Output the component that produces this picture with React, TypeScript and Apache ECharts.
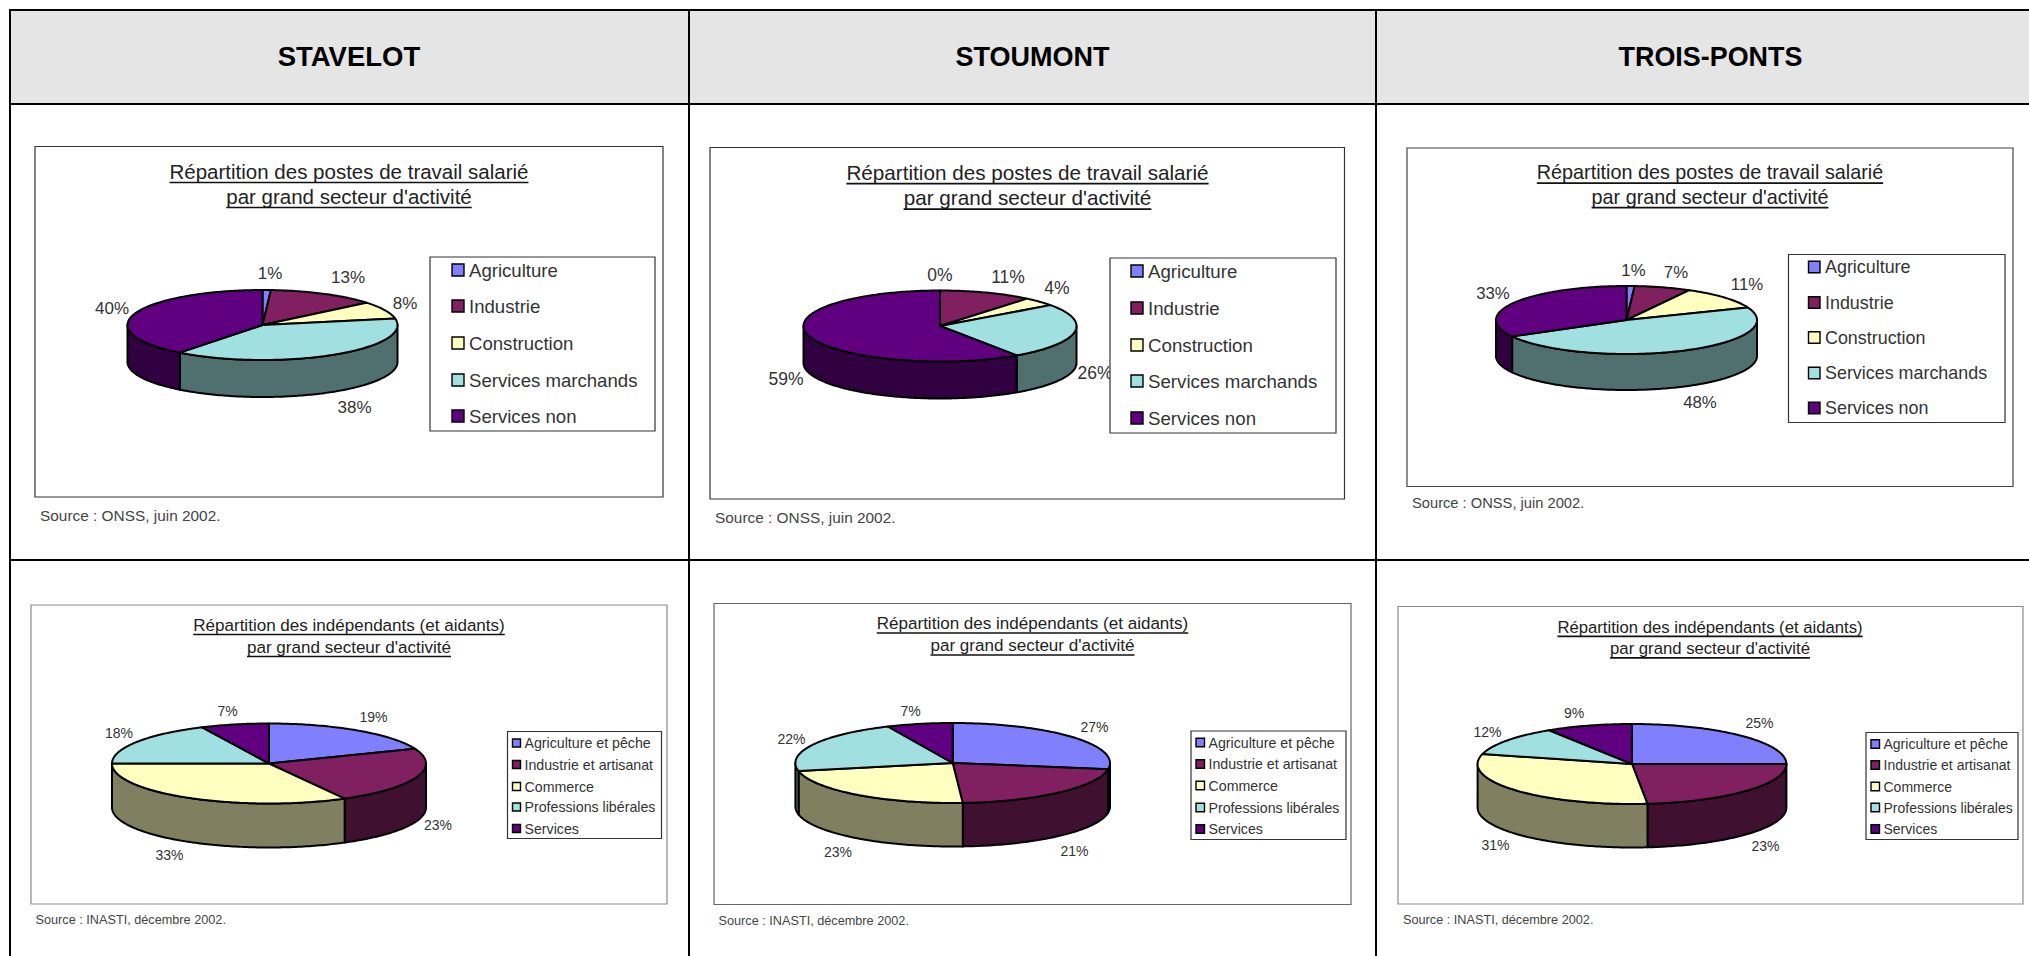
import React, { useEffect, useRef } from "react";
import * as echarts from "echarts";

const communes = ["STAVELOT", "STOUMONT", "TROIS-PONTS"];
const salariedSectors = ["Agriculture", "Industrie", "Construction", "Services marchands", "Services non"];
const selfEmployedSectors = ["Agriculture et pêche", "Industrie et artisanat", "Commerce", "Professions libérales", "Services"];
const salariedTitle = ["Répartition des postes de travail salarié", "par grand secteur d'activité"];
const selfEmployedTitle = ["Répartition des indépendants (et aidants)", "par grand secteur d'activité"];
const salariedSource = "Source : ONSS, juin 2002.";
const selfEmployedSource = "Source : INASTI, décembre 2002.";

// Shares read from the slice boundaries; the printed labels are these values rounded.
const stavelotSalaried = [1, 13, 8, 38.49, 39.51];
const stoumontSalaried = [0, 11, 4, 25.5, 59.49];
const troisPontsSalaried = [1, 7, 11, 48, 33];
const stavelotSelfEmployed = [19, 23, 33, 18, 7];
const stoumontSelfEmployed = [27.49, 21.49, 22.8, 21.5, 6.72];
const troisPontsSelfEmployed = [25, 23.4, 30.6, 12, 9];

const topColors = ["#8080FF", "#802060", "#FFFFC0", "#A0E0E0", "#600080"];
const sideColors = ["#404080", "#401030", "#808060", "#507070", "#300040"];

const FONT = '"Liberation Sans", Arial, sans-serif';

const panels = [
  {
    values: stavelotSalaried, names: salariedSectors, title: salariedTitle, source: salariedSource,
    box: [35, 146.5, 663, 497], border: "#333333",
    titleX: 349, titleY: [171, 196], titleSize: 20.5,
    legendBox: [430, 257, 655, 431], swatch: [452, 464], textX: 469, legendY: [270, 306, 343, 380, 416], legendSize: 18.6,
    pie: { cx: 262.5, cy: 325, rx: 135, ry: 35, depth: 37 },
    labels: [[270, 273.5], [348, 277], [405, 303], [354.5, 407], [112, 308]], labelSize: 17,
    sourceX: 40, sourceY: 515, sourceSize: 15.4,
  },
  {
    values: stoumontSalaried, names: salariedSectors, title: salariedTitle, source: salariedSource,
    box: [710, 147.5, 1344.5, 499], border: "#333333",
    titleX: 1027.5, titleY: [172, 197.5], titleSize: 20.7,
    legendBox: [1110, 258, 1336, 433], swatch: [1131, 1143], textX: 1148, legendY: [271, 308, 345, 381, 418], legendSize: 18.7,
    pie: { cx: 940, cy: 326, rx: 136.5, ry: 35.5, depth: 37 },
    labels: [[940, 275], [1008, 277], [1057, 288], [1095, 372.5], [786, 378.5]], labelSize: 17.5,
    sourceX: 715, sourceY: 517, sourceSize: 15.4,
  },
  {
    values: troisPontsSalaried, names: salariedSectors, title: salariedTitle, source: salariedSource,
    box: [1407, 148, 2013, 486.5], border: "#444444",
    titleX: 1710, titleY: [172, 196.5], titleSize: 19.8,
    legendBox: [1788.5, 254.5, 2005, 422.5], swatch: [1808.5, 1820], textX: 1825, legendY: [267, 302.5, 337.5, 373, 408], legendSize: 17.9,
    pie: { cx: 1626.5, cy: 320, rx: 130.5, ry: 34, depth: 36 },
    labels: [[1633.5, 270], [1676, 272.5], [1747, 284], [1700, 402], [1493, 293]], labelSize: 16.8,
    sourceX: 1412, sourceY: 503, sourceSize: 14.7,
  },
  {
    values: stavelotSelfEmployed, names: selfEmployedSectors, title: selfEmployedTitle, source: selfEmployedSource,
    box: [31, 605, 667, 904], border: "#8a8a8a",
    titleX: 349, titleY: [625, 647], titleSize: 17.05,
    legendBox: [507.5, 731.5, 661.5, 838.5], swatch: [512.5, 520.5], textX: 524.5, legendY: [743, 764.5, 786.5, 807, 828.5], legendSize: 14.2,
    pie: { cx: 269, cy: 763.5, rx: 157, ry: 40, depth: 44 },
    labels: [[373.5, 716.5], [438, 825], [169.5, 854.5], [119, 732.5], [227.5, 711]], labelSize: 14,
    sourceX: 35.5, sourceY: 919.5, sourceSize: 12.7,
  },
  {
    values: stoumontSelfEmployed, names: selfEmployedSectors, title: selfEmployedTitle, source: selfEmployedSource,
    box: [714, 603.5, 1351, 904.5], border: "#666666",
    titleX: 1032.5, titleY: [623.5, 645.5], titleSize: 17.05,
    legendBox: [1191, 731, 1346, 839.5], swatch: [1196, 1204.5], textX: 1208.5, legendY: [742.5, 764, 785.5, 807.5, 829], legendSize: 14.2,
    pie: { cx: 952.7, cy: 763, rx: 157.3, ry: 40, depth: 43.5 },
    labels: [[1094.5, 727], [1074.5, 850.5], [838, 852], [791.5, 738.5], [910.5, 710.5]], labelSize: 14,
    sourceX: 718.5, sourceY: 920.5, sourceSize: 12.7,
  },
  {
    values: troisPontsSelfEmployed, names: selfEmployedSectors, title: selfEmployedTitle, source: selfEmployedSource,
    box: [1398, 606.5, 2023, 904], border: "#8a8a8a",
    titleX: 1710, titleY: [627, 648.5], titleSize: 16.7,
    legendBox: [1866, 732.5, 2018, 839.5], swatch: [1871, 1879.5], textX: 1883.5, legendY: [744, 765, 786.5, 807.5, 829], legendSize: 14,
    pie: { cx: 1632, cy: 764, rx: 154.4, ry: 40, depth: 43.5 },
    labels: [[1759.5, 723], [1765.5, 846], [1495.5, 844.5], [1487.5, 732], [1574, 713]], labelSize: 14,
    sourceX: 1403, sourceY: 920, sourceSize: 12.7,
  },
];

const headerCenters = [349, 1032.5, 1710.5];
const headerSizes = [27.5, 27, 26.9];

function textStyle(text: string, x: number, y: number, size: number, fill: string, align = "left", weight = "normal") {
  return {
    text, x, y, fill, fontSize: size, fontFamily: FONT, fontWeight: weight,
    align, verticalAlign: "middle", textAlign: align, textVerticalAlign: "middle",
  };
}

function textWidth(text: string, size: number) {
  const ctx = document.createElement("canvas").getContext("2d")!;
  ctx.font = `${size}px "Liberation Sans"`;
  return ctx.measureText(text).width;
}

function pt(p: any, deg: number, dy = 0) {
  const t = (deg * Math.PI) / 180;
  return [p.cx + p.rx * Math.sin(t), p.cy - p.ry * Math.cos(t) + dy];
}

function arc(p: any, a0: number, a1: number, dy = 0) {
  const out: number[][] = [];
  const n = Math.max(1, Math.ceil(a1 - a0));
  for (let i = 0; i <= n; i++) out.push(pt(p, a0 + ((a1 - a0) * i) / n, dy));
  return out;
}

function makeSeries(panel: any, idx: number) {
  let cum = 0;
  const data = panel.values.map((v: number) => {
    const row = [v, cum];
    cum += v;
    return row;
  });
  const p = panel.pie;
  return {
    type: "custom",
    name: `pie${idx}`,
    coordinateSystem: "none",
    silent: true,
    z: 2,
    data,
    renderItem: (params: any, api: any) => {
      const i = params.dataIndex;
      const value = api.value(0);
      const start = api.value(1);
      const a0 = (start / 100) * 360;
      const a1 = ((start + value) / 100) * 360;
      const children: any[] = [];
      const edge = { stroke: "#000000", lineWidth: 2, lineJoin: "round" };
      if (value > 0) {
        const s = Math.max(a0, 90);
        const e = Math.min(a1, 270);
        if (s < e) {
          const top = arc(p, s, e);
          const bottom = arc(p, s, e, p.depth).reverse();
          children.push({
            type: "polygon",
            shape: { points: top.concat(bottom) },
            style: { fill: sideColors[i], ...edge },
          });
        }
        children.push({
          type: "polygon",
          shape: { points: [[p.cx, p.cy], ...arc(p, a0, a1)] },
          style: { fill: topColors[i], ...edge },
        });
      }
      const [lx, ly] = panel.labels[i];
      children.push({
        type: "text",
        style: textStyle(`${Math.round(value)}%`, lx, ly, panel.labelSize, "#333333", "center"),
      });
      return { type: "group", children };
    },
  };
}

function rect(x0: number, y0: number, x1: number, y1: number, style: any, z = 0) {
  return { type: "rect", z, silent: true, shape: { x: x0, y: y0, width: x1 - x0, height: y1 - y0 }, style };
}

function buildGraphics() {
  const els: any[] = [];
  els.push(rect(10, 10, 2029, 104, { fill: "#E5E5E5" }));
  communes.forEach((name, i) => {
    els.push({ type: "text", z: 1, silent: true, style: textStyle(name, headerCenters[i], 56.5, headerSizes[i], "#000000", "center", "bold") });
  });
  const tableLines = [
    [9, 9, 2029, 11], [9, 103, 2029, 105], [9, 559, 2029, 561],
    [9, 9, 11, 956], [688, 9, 690, 956], [1375, 9, 1377, 956],
  ];
  tableLines.forEach((l) => els.push(rect(l[0], l[1], l[2], l[3], { fill: "#000000" }, 1)));
  panels.forEach((pn) => {
    const [x0, y0, x1, y1] = pn.box;
    els.push(rect(x0, y0, x1, y1, { fill: "#ffffff", stroke: pn.border, lineWidth: 1.2 }, 1));
    pn.title.forEach((line, i) => {
      const y = pn.titleY[i];
      els.push({ type: "text", z: 3, silent: true, style: textStyle(line, pn.titleX, y, pn.titleSize, "#222222", "center") });
      const w = textWidth(line, pn.titleSize);
      const uy = y + pn.titleSize * 0.56;
      els.push({
        type: "line", z: 3, silent: true,
        shape: { x1: pn.titleX - w / 2, y1: uy, x2: pn.titleX + w / 2, y2: uy },
        style: { stroke: "#111111", lineWidth: 1.6 },
      });
    });
    els.push({ type: "text", z: 3, silent: true, style: textStyle(pn.source, pn.sourceX, pn.sourceY, pn.sourceSize, "#444444") });
    const [lx0, ly0, lx1, ly1] = pn.legendBox;
    els.push(rect(lx0, ly0, lx1, ly1, { fill: "#ffffff", stroke: "#333333", lineWidth: 1.2 }, 10));
    const [sx0, sx1] = pn.swatch;
    const half = (sx1 - sx0) / 2;
    pn.names.forEach((nm, i) => {
      const y = pn.legendY[i];
      els.push(rect(sx0, y - half, sx1, y + half, { fill: topColors[i], stroke: "#000000", lineWidth: 1.4 }, 11));
      els.push({ type: "text", z: 11, silent: true, style: textStyle(nm, pn.textX, y, pn.legendSize, "#333333") });
    });
  });
  return els;
}

export default function App() {
  const ref = useRef<HTMLDivElement>(null);
  useEffect(() => {
    document.body.style.margin = "0";
    document.body.style.overflow = "hidden";
    const chart = echarts.init(ref.current!, null, { renderer: "svg" });
    chart.setOption({
      animation: false,
      backgroundColor: "#ffffff",
      graphic: { elements: buildGraphics() },
      series: panels.map(makeSeries),
    });
    return () => chart.dispose();
  }, []);
  return <div ref={ref} style={{ width: 2029, height: 956 }} />;
}
